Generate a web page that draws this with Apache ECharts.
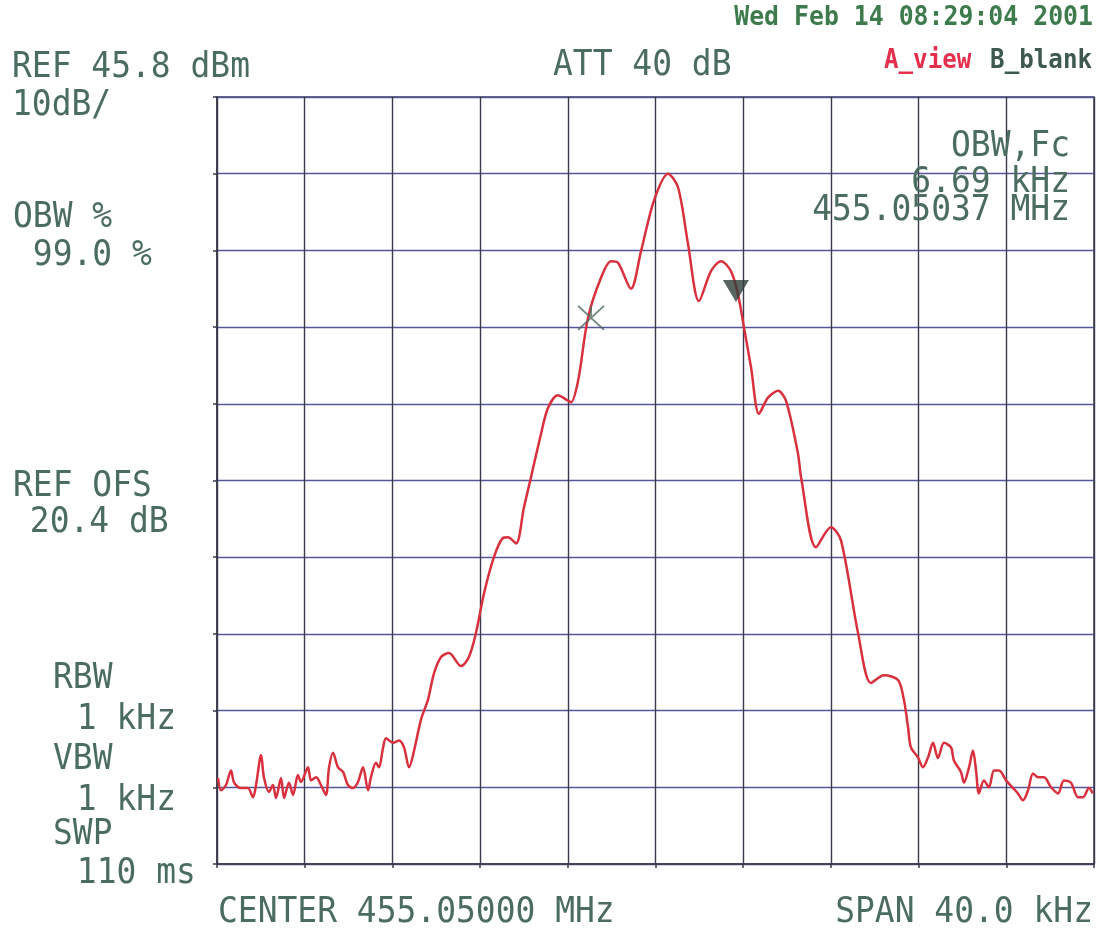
<!DOCTYPE html>
<html><head><meta charset="utf-8">
<script src="https://cdn.jsdelivr.net/npm/echarts@6/dist/echarts.min.js"></script>
<style>html,body{margin:0;padding:0;background:#fff}#c{width:1099px;height:930px}</style>
</head><body><div id="c"></div><script>
// Reference level (top graticule line) and scale
const REF_DBM = 45.8;
// Frequency offset from CENTER 455.05000 MHz, kHz (span 40 kHz)
const freqOffsetKHz = [
 -19.95,-19.82,-19.59,-19.36,-19.22,-18.91,-18.59,-18.36,-18.22,-17.99,
 -17.86,-17.63,-17.45,-17.31,-17.08,-16.94,-16.72,-16.53,-16.31,-16.17,
 -15.85,-15.71,-15.48,-15.26,-15.03,-14.89,-14.71,-14.48,-14.25,-14.03,
 -13.80,-13.57,-13.34,-13.11,-12.98,-12.75,-12.61,-12.43,-12.29,-11.97,
 -11.70,-11.47,-11.24,-11.01,-10.70,-10.38,-10.10,-9.78,-9.42,-8.87,
 -8.51,-8.19,-7.82,-7.37,-6.96,-6.73,-6.36,-6.00,-5.68,-5.22,
 -4.90,-4.45,-3.99,-3.85,-3.53,-3.08,-2.49,-2.03,-1.71,-1.12,
 -0.66,-0.07,0.57,1.03,1.48,1.98,2.53,2.99,3.44,3.76,
 4.04,4.36,4.72,5.13,5.59,5.95,6.50,6.64,7.32,8.00,
 8.46,9.24,9.83,10.42,11.06,11.33,11.52,11.65,11.97,12.20,
 12.43,12.66,12.88,13.16,13.48,13.61,13.93,14.07,14.30,14.48,
 14.62,14.75,14.98,15.21,15.44,15.67,15.99,16.31,16.53,16.76,
 16.99,17.22,17.45,17.72,18.04,18.36,18.63,18.95,19.27,19.50,
 19.77,19.95
];
// Trace level, dBm
const traceDbm = [
 -43.0,-44.6,-43.9,-42.0,-43.6,-44.3,-44.3,-45.5,-43.9,-40.0,
 -42.9,-44.8,-43.9,-45.6,-43.0,-45.6,-43.6,-45.2,-42.6,-43.5,
 -41.6,-43.3,-42.9,-43.9,-45.2,-41.6,-39.7,-41.6,-42.2,-43.9,
 -44.3,-43.5,-41.6,-44.6,-42.9,-41.0,-41.6,-39.1,-37.8,-38.4,
 -38.1,-39.0,-41.6,-39.4,-35.4,-32.8,-29.3,-27.2,-26.7,-28.4,
 -27.2,-24.1,-18.9,-14.2,-11.7,-11.6,-12.4,-7.7,-3.8,1.9,
 5.3,6.9,6.2,6.0,8.8,17.0,22.2,24.4,24.2,20.8,
 25.7,32.3,35.8,34.0,26.7,19.2,23.1,24.4,23.1,20.1,
 15.7,10.5,4.5,6.6,7.5,6.2,-0.7,-3.8,-12.9,-10.3,
 -12.0,-24.1,-30.6,-29.6,-30.2,-32.8,-36.4,-39.0,-40.3,-41.6,
 -40.3,-38.4,-40.4,-38.4,-39.0,-40.7,-42.2,-43.6,-41.6,-39.4,
 -42.0,-45.0,-43.3,-44.2,-42.0,-42.0,-43.3,-44.3,-45.0,-45.9,
 -44.6,-42.4,-42.9,-42.9,-44.2,-45.0,-43.3,-43.6,-45.5,-45.5,
 -44.3,-45.0
];
// OBW markers (lower edge asterisk, upper edge triangle)
const markerFreqKHz = [-2.94, 3.67];
const markerDbm = [17.0, 20.5];

// Annotation texts
const topLeftLines = ['REF 45.8 dBm', '10dB/'];
const attText = 'ATT 40 dB';
const dateText = 'Wed Feb 14 08:29:04 2001';
const viewA = 'A_view';
const viewB = 'B_blank';
const obwLines = ['OBW,Fc', '6.69 kHz', '455.05037 MHz'];
const leftLabels = [['OBW %', 13], [' 99.0 %', 13], ['REF OFS', 13], [' 20.4 dB', 10],
  ['RBW', 53], [' 1 kHz', 57], ['VBW', 53], [' 1 kHz', 57], ['SWP', 53], [' 110 ms', 57]];
const centerText = 'CENTER 455.05000 MHz';
const spanText = 'SPAN 40.0 kHz';

const TXT = '#4b6d60';
const FONT = '36px "DejaVu Sans Mono", "Liberation Mono", monospace';
const FONT_S = 'bold 26px "DejaVu Sans Mono", "Liberation Mono", monospace';
function t(text, x, y, opts) {
  opts = opts || {};
  return { type: 'text', x: x, y: y, z: 10, scaleX: opts.sx || 0.915, style: {
    text: text, font: opts.font || FONT, fill: opts.fill || TXT,
    align: opts.align || 'left', verticalAlign: 'middle',
    textAlign: opts.align || 'left', textVerticalAlign: 'middle' } };
}
const leftY = [218, 256, 487, 523, 679, 720, 760, 801, 835, 874];
const graphics = [
  t(topLeftLines[0], 12, 68),
  t(topLeftLines[1], 12, 106),
  t(attText, 553, 66),
  t(dateText, 1093, 18, { font: FONT_S, fill: '#3d7a4c', align: 'right', sx: 0.955 }),
  t(viewA, 884, 61, { font: FONT_S, fill: '#e5304d', sx: 0.93 }),
  t(viewB, 1092, 61, { font: FONT_S, fill: '#3e5a50', align: 'right', sx: 0.93 }),
  t(obwLines[0], 1070, 147, { align: 'right' }),
  t(obwLines[1], 1070, 183, { align: 'right' }),
  t(obwLines[2], 1070, 211, { align: 'right' }),
  t(centerText, 218, 913),
  t(spanText, 1093, 913, { align: 'right' })
];
leftLabels.forEach((l, i) => graphics.push(t(l[0], l[1], leftY[i])));

const chart = echarts.init(document.getElementById('c'), null, { renderer: 'canvas' });
const lineData = freqOffsetKHz.map((f, i) => [f, traceDbm[i] - REF_DBM]);
const markData = markerFreqKHz.map((f, i) => [f, markerDbm[i] - REF_DBM]);
const vCol = '#3a3a4c', hCol = '#55559a';
chart.setOption({
  animation: false,
  backgroundColor: '#ffffff',
  grid: { left: 217, top: 97, width: 877, height: 767, show: true, borderColor: vCol, borderWidth: 1.5 },
  xAxis: { type: 'value', min: -20, max: 20, interval: 4,
    axisLine: { show: true, onZero: false, lineStyle: { color: vCol, width: 1.5 } },
    axisTick: { show: true, length: 4, lineStyle: { color: vCol, width: 1.5 } },
    axisLabel: { show: false },
    splitLine: { show: true, lineStyle: { color: vCol, width: 1.4 } } },
  yAxis: { type: 'value', min: -100, max: 0, interval: 10,
    axisLine: { show: true, onZero: false, lineStyle: { color: vCol, width: 1.5 } },
    axisTick: { show: true, length: 4, lineStyle: { color: vCol, width: 1.5 } },
    axisLabel: { show: false },
    splitLine: { show: true, lineStyle: { color: hCol, width: 1.4 } } },
  series: [
    { type: 'line', data: lineData, showSymbol: false, smooth: 0.3,
      lineStyle: { color: '#d9303e', width: 2.5 }, z: 3 },
    { type: 'scatter', data: [markData[0]], z: 4,
      symbol: 'path://M0,0L26,24M26,0L0,24M13,0L13,12', symbolSize: [26, 24],
      itemStyle: { color: 'rgba(0,0,0,0)', borderColor: '#4f6a60', borderWidth: 1.8 } },
    { type: 'scatter', data: [markData[1]], z: 4,
      symbol: 'triangle', symbolRotate: 180, symbolSize: [26, 22],
      itemStyle: { color: '#2e3d38' } }
  ],
  graphic: graphics
});
</script></body></html>
